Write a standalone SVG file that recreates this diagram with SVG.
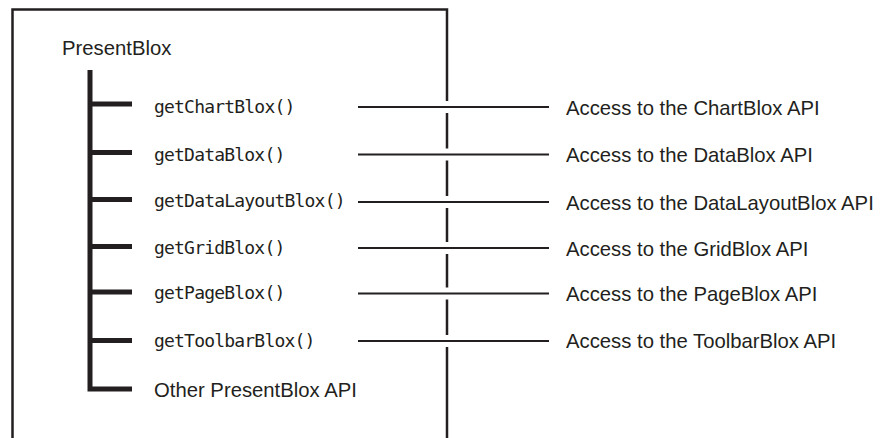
<svg xmlns="http://www.w3.org/2000/svg" width="881" height="438" viewBox="0 0 881 438">
<style>
.frame{fill:none;stroke:#231f20;stroke-width:2.5}
.tree{fill:none;stroke:#231f20;stroke-width:5;stroke-linecap:butt;stroke-linejoin:miter}
.conn{fill:none;stroke:#231f20;stroke-width:1.8}
.sans{font-family:"Liberation Sans",Arial,sans-serif;font-size:20.3px;fill:#231f20}
.mono{font-family:"DejaVu Sans Mono","Liberation Mono",monospace;font-size:18px;letter-spacing:-0.8px;fill:#231f20}
</style>
<rect width="881" height="438" fill="#ffffff"/>
<g id="frame">
<path class="frame" d="M12.5,438 V9.5 H447 V101"/>
<path class="frame" d="M447,113 V148.5 M447,160.5 V196 M447,208 V242 M447,254 V287.5 M447,299.5 V335 M447,347 V438"/>
</g>
<g id="root"><text class="sans" x="62" y="55">PresentBlox</text></g>
<g id="tree">
<path class="tree" d="M90,70 V389 H132"/>
<path class="tree" d="M90,104 H132 M90,152.5 H132 M90,199.5 H132 M90,246.5 H132 M90,292 H132 M90,340.5 H132"/>
</g>
<g id="n-chart"><text class="mono" x="154" y="113">getChartBlox()</text></g>
<g id="n-data"><text class="mono" x="154" y="160.5">getDataBlox()</text></g>
<g id="n-datalayout"><text class="mono" x="154" y="207">getDataLayoutBlox()</text></g>
<g id="n-grid"><text class="mono" x="154" y="254">getGridBlox()</text></g>
<g id="n-page"><text class="mono" x="154" y="299">getPageBlox()</text></g>
<g id="n-toolbar"><text class="mono" x="154" y="347">getToolbarBlox()</text></g>
<g id="n-other"><text class="sans" x="154" y="397">Other PresentBlox API</text></g>
<g id="connectors">
<path class="conn" d="M358,107 H549 M358,154.5 H549 M358,202 H549 M358,248 H549 M358,293.5 H549 M358,341 H549"/>
</g>
<g id="a-chart"><text class="sans" x="566" y="114.5">Access to the ChartBlox API</text></g>
<g id="a-data"><text class="sans" x="566" y="162">Access to the DataBlox API</text></g>
<g id="a-datalayout"><text class="sans" x="566" y="209.5">Access to the DataLayoutBlox API</text></g>
<g id="a-grid"><text class="sans" x="566" y="255.5">Access to the GridBlox API</text></g>
<g id="a-page"><text class="sans" x="566" y="301">Access to the PageBlox API</text></g>
<g id="a-toolbar"><text class="sans" x="566" y="348">Access to the ToolbarBlox API</text></g>
</svg>
